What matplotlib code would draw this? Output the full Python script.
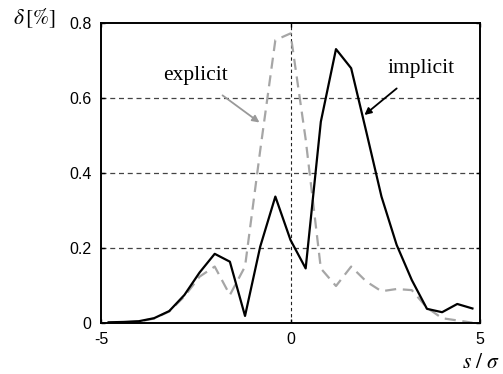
import numpy as np
import matplotlib
matplotlib.use('Agg')
import matplotlib.pyplot as plt

plt.rcParams['mathtext.fontset'] = 'stix'

# ── data ─────────────────────────────────────────────────────────────────
s_sigma = [-4.8, -4.4, -4.0, -3.6, -3.2, -2.8, -2.4, -2.0, -1.6, -1.2,
           -0.8, -0.4, 0.0, 0.4, 0.8, 1.2, 1.6, 2.0, 2.4, 2.8,
           3.2, 3.6, 4.0, 4.4, 4.8]

implicit = [0.001, 0.002, 0.004, 0.012, 0.031, 0.074, 0.134, 0.184, 0.163, 0.018,
            0.203, 0.337, 0.221, 0.145, 0.537, 0.731, 0.680, 0.510, 0.337, 0.208,
            0.114, 0.037, 0.028, 0.050, 0.038]

explicit = [0.000, 0.001, 0.003, 0.011, 0.030, 0.070, 0.123, 0.150, 0.074, 0.150,
            0.460, 0.755, 0.773, 0.490, 0.145, 0.098, 0.150, 0.110, 0.084, 0.090,
            0.087, 0.040, 0.012, 0.006, 0.000]

xticks = [-5, 0, 5]
yticks = [0, 0.2, 0.4, 0.6, 0.8]
ytick_labels = ['0', '0.2', '0.4', '0.6', '0.8']

# ── figure ───────────────────────────────────────────────────────────────
fig = plt.figure(figsize=(5.03, 3.74), dpi=100)
ax = fig.add_axes([0.2008, 0.1372, 0.7535, 0.8005])

# grid: horizontal dashed lines and vertical line at zero
for yv in [0.2, 0.4, 0.6]:
    ax.axhline(yv, color='#444444', lw=0.9, ls=(0, (4, 3)), zorder=1)
ax.axvline(0, color='#222222', lw=0.8, ls=(0, (3, 2.5)), zorder=1)

ax.plot(s_sigma, explicit, color='#a6a6a6', lw=1.6, ls=(0, (5, 3)), zorder=2)
ax.plot(s_sigma, implicit, color='black', lw=1.6, zorder=3)

ax.set_xlim(-5, 5)
ax.set_ylim(0, 0.8)
ax.set_xticks(xticks)
ax.set_xticklabels([str(t) for t in xticks])
ax.set_yticks(yticks)
ax.set_yticklabels(ytick_labels)
ax.tick_params(direction='in', length=3, width=1, top=True, right=True,
               labelsize=11.5)
ax.tick_params(axis='x', pad=7)
ax.tick_params(axis='y', pad=7)
for lab in ax.get_xticklabels() + ax.get_yticklabels():
    lab.set_fontfamily('Liberation Sans')
for sp in ax.spines.values():
    sp.set_linewidth(1.4)

serif = 'Liberation Serif'

# annotations
ax.annotate('explicit', xy=(-0.82, 0.535), xytext=(-2.5, 0.66),
            fontsize=15.5, family=serif, ha='center', va='center',
            arrowprops=dict(arrowstyle='-|>', color='#999999', lw=1.3,
                            mutation_scale=10, shrinkA=9, shrinkB=0))
ax.annotate('implicit', xy=(1.95, 0.555), xytext=(3.45, 0.68),
            fontsize=15.5, family=serif, ha='center', va='center',
            arrowprops=dict(arrowstyle='-|>', color='black', lw=1.3,
                            mutation_scale=10, shrinkA=9, shrinkB=0))

# axis labels in the corners
fig.text(0.068, 0.952, r'$\delta\,[\%]$', fontsize=15.5, family=serif,
         ha='center', va='center')
fig.text(0.918, 0.003, r'$s\ /\ \sigma$', fontsize=15.5, family=serif,
         ha='left', va='bottom')

fig.savefig('out.png', dpi=100, facecolor='white')
